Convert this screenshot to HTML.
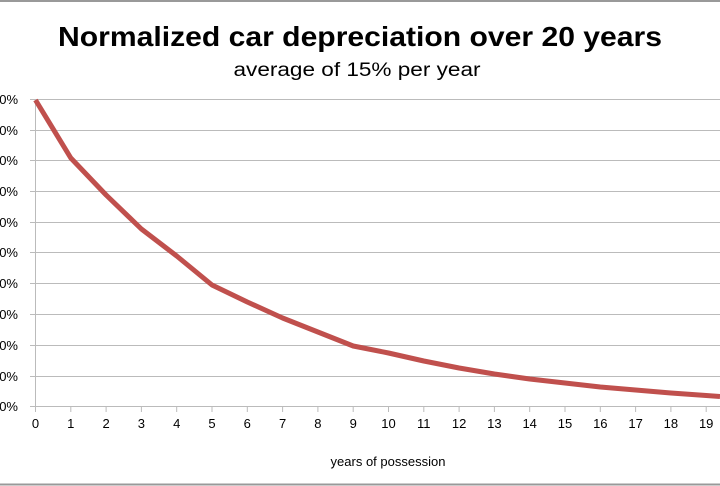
<!DOCTYPE html>
<html><head><style>
html,body{margin:0;padding:0;background:#fff;width:720px;height:486px;overflow:hidden}
svg{display:block}
text{font-family:"Liberation Sans",sans-serif;fill:#000}
</style></head><body>
<svg width="720" height="486" viewBox="0 0 720 486">
<line x1="0" y1="1" x2="720" y2="1" stroke="#999" stroke-width="2"/>
<line x1="0" y1="484.5" x2="720" y2="484.5" stroke="#999" stroke-width="2"/>
<text x="360" y="46" text-anchor="middle" font-size="28" font-weight="bold" textLength="604" lengthAdjust="spacingAndGlyphs">Normalized car depreciation over 20 years</text>
<text x="357" y="76" text-anchor="middle" font-size="19" textLength="247" lengthAdjust="spacingAndGlyphs">average of 15% per year</text>
<g stroke="#bbb" stroke-width="1">
<line x1="30" y1="99.5" x2="720" y2="99.5"/>
<line x1="30" y1="130.5" x2="720" y2="130.5"/>
<line x1="30" y1="160.5" x2="720" y2="160.5"/>
<line x1="30" y1="191.5" x2="720" y2="191.5"/>
<line x1="30" y1="222.5" x2="720" y2="222.5"/>
<line x1="30" y1="252.5" x2="720" y2="252.5"/>
<line x1="30" y1="283.5" x2="720" y2="283.5"/>
<line x1="30" y1="314.5" x2="720" y2="314.5"/>
<line x1="30" y1="345.5" x2="720" y2="345.5"/>
<line x1="30" y1="376.5" x2="720" y2="376.5"/>
<line x1="30" y1="406.5" x2="720" y2="406.5"/>
<line x1="35.5" y1="99" x2="35.5" y2="412"/>
</g>
<g stroke="#bbb" stroke-width="1">
<line x1="70.8" y1="406" x2="70.8" y2="412"/><line x1="106.1" y1="406" x2="106.1" y2="412"/><line x1="141.4" y1="406" x2="141.4" y2="412"/><line x1="176.7" y1="406" x2="176.7" y2="412"/><line x1="212" y1="406" x2="212" y2="412"/><line x1="247.3" y1="406" x2="247.3" y2="412"/><line x1="282.6" y1="406" x2="282.6" y2="412"/><line x1="317.9" y1="406" x2="317.9" y2="412"/><line x1="353.2" y1="406" x2="353.2" y2="412"/><line x1="388.5" y1="406" x2="388.5" y2="412"/><line x1="423.8" y1="406" x2="423.8" y2="412"/><line x1="459.1" y1="406" x2="459.1" y2="412"/><line x1="494.4" y1="406" x2="494.4" y2="412"/><line x1="529.7" y1="406" x2="529.7" y2="412"/><line x1="565" y1="406" x2="565" y2="412"/><line x1="600.3" y1="406" x2="600.3" y2="412"/><line x1="635.6" y1="406" x2="635.6" y2="412"/><line x1="670.9" y1="406" x2="670.9" y2="412"/><line x1="706.2" y1="406" x2="706.2" y2="412"/>
</g>
<g font-size="13" text-anchor="end">
<text x="18" y="104">100%</text><text x="18" y="135">90%</text><text x="18" y="165">80%</text><text x="18" y="196">70%</text><text x="18" y="227">60%</text><text x="18" y="257">50%</text><text x="18" y="288">40%</text><text x="18" y="319">30%</text><text x="18" y="350">20%</text><text x="18" y="381">10%</text><text x="18" y="411">0%</text>
</g>
<g font-size="13" text-anchor="middle">
<text x="35.5" y="428">0</text><text x="70.8" y="428">1</text><text x="106.1" y="428">2</text><text x="141.4" y="428">3</text><text x="176.7" y="428">4</text><text x="212" y="428">5</text><text x="247.3" y="428">6</text><text x="282.6" y="428">7</text><text x="317.9" y="428">8</text><text x="353.2" y="428">9</text><text x="388.5" y="428">10</text><text x="423.8" y="428">11</text><text x="459.1" y="428">12</text><text x="494.4" y="428">13</text><text x="529.7" y="428">14</text><text x="565" y="428">15</text><text x="600.3" y="428">16</text><text x="635.6" y="428">17</text><text x="670.9" y="428">18</text><text x="706.2" y="428">19</text>
</g>
<text x="388" y="466" font-size="13" text-anchor="middle">years of possession</text>
<polyline fill="none" stroke="#c0504d" stroke-width="5" stroke-linejoin="round" points="35.5,100 70.8,158 106.1,195 141.4,229 176.7,256 212,285 247.3,302 282.6,318 317.9,332 353.2,346 388.5,353 423.8,361 459.1,368 494.4,374 529.7,379 565,383 600.3,387 635.6,390 670.9,393 706.2,395.5 720,396.5"/>
</svg>
</body></html>
